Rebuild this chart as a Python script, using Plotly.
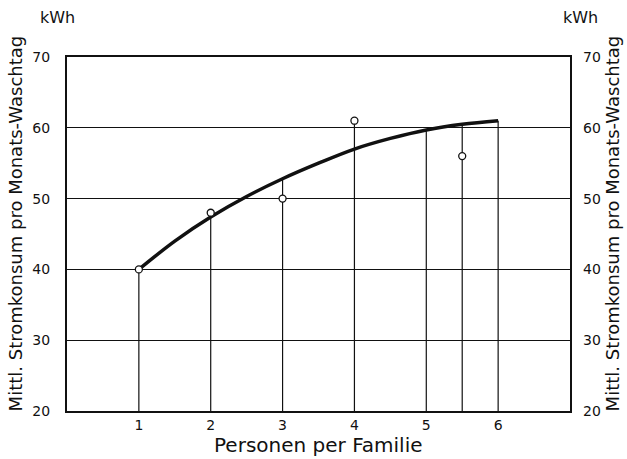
import plotly.graph_objects as go

# Data
point_x = [1, 2, 3, 4, 5.5]
point_y = [40, 48, 50, 61, 56]

curve_x = [1, 1.5, 2, 2.5, 3, 3.5, 4, 4.5, 5, 5.5, 6]
curve_y = [40, 44.0, 47.4, 50.3, 52.8, 55.0, 57.0, 58.5, 59.7, 60.5, 61.0]

drop_x = [1, 2, 3, 4, 5, 5.5, 6]
drop_top = [40, 48, 52.8, 61, 59.7, 60.5, 61]

x_ticks = [1, 2, 3, 4, 5, 6]
y_ticks = [20, 30, 40, 50, 60, 70]

FONT = "DejaVu Sans"
Y0 = 20
SIDE_TITLE = "Mittl. Stromkonsum pro Monats-Waschtag"

fig = go.Figure()

# Drop lines
dx, dy = [], []
for x, t in zip(drop_x, drop_top):
    dx += [x, x, None]
    dy += [Y0, t, None]
fig.add_trace(go.Scatter(x=dx, y=dy, mode="lines",
                         line=dict(color="#111", width=1.2),
                         hoverinfo="skip", showlegend=False))

# Curve
fig.add_trace(go.Scatter(x=curve_x, y=curve_y, mode="lines",
                         line=dict(color="#111", width=3.5, shape="spline"),
                         showlegend=False))

# Points
fig.add_trace(go.Scatter(x=point_x, y=point_y, mode="markers",
                         marker=dict(symbol="circle", size=7, color="white",
                                     line=dict(color="#111", width=1.3)),
                         showlegend=False))

fig.add_trace(go.Scatter(x=[None], y=[None], yaxis="y2", showlegend=False))

fig.update_layout(
    width=627, height=459,
    margin=dict(l=67, r=57, t=57, b=48),
    paper_bgcolor="white", plot_bgcolor="white",
    font=dict(family=FONT, color="#111", size=14),
    xaxis=dict(range=[0, 7], tickvals=x_ticks, showgrid=False, zeroline=False,
               showline=True, linecolor="#111", linewidth=2, mirror=True,
               ticks="", ticklabelstandoff=0, tickfont=dict(size=14)),
    yaxis=dict(range=[20, 70], tickvals=y_ticks, showgrid=True,
               gridcolor="#111", gridwidth=1, zeroline=False,
               showline=True, linecolor="#111", linewidth=2, mirror=True,
               ticks="", ticklabelstandoff=12, tickfont=dict(size=14)),
    yaxis2=dict(range=[20, 70], tickvals=y_ticks, overlaying="y", side="right",
                showgrid=False, zeroline=False, showline=False, ticks="",
                ticklabelstandoff=12, tickfont=dict(size=14)),
    annotations=[
        dict(text="Personen per Familie", xref="paper", yref="paper",
             x=0.5, y=0, yshift=-48, showarrow=False, xanchor="center",
             yanchor="bottom", font=dict(size=20)),
        dict(text=SIDE_TITLE, xref="paper", yref="paper", x=0, xshift=-52,
             y=0.53, textangle=-90, xanchor="center", yanchor="middle",
             showarrow=False, font=dict(size=18)),
        dict(text=SIDE_TITLE, xref="paper", yref="paper", x=1, xshift=42,
             y=0.53, textangle=-90, xanchor="center", yanchor="middle",
             showarrow=False, font=dict(size=18)),
        dict(text="kWh", xref="paper", yref="paper", x=0, xshift=-10,
             y=1, yshift=40, xanchor="center", yanchor="middle",
             showarrow=False, font=dict(size=16)),
        dict(text="kWh", xref="paper", yref="paper", x=1, xshift=10,
             y=1, yshift=40, xanchor="center", yanchor="middle",
             showarrow=False, font=dict(size=16)),
    ],
)

fig.write_html("out.html",
               config={"displayModeBar": False},
               post_script="document.body.style.margin='0';"
                           "document.body.style.overflow='hidden';")
